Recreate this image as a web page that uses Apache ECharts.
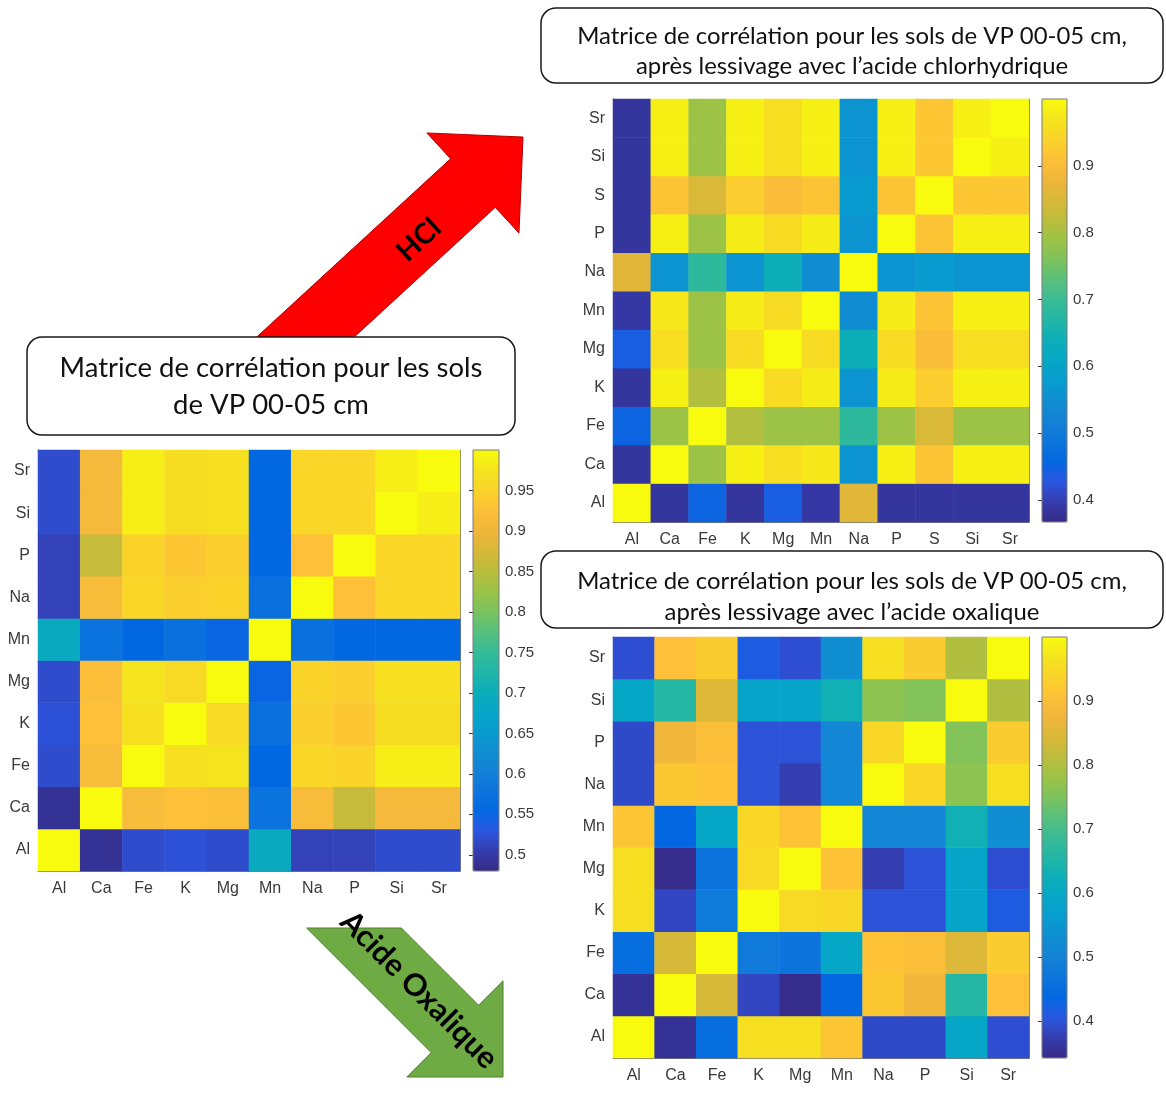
<!DOCTYPE html>
<html><head><meta charset="utf-8">
<script src="https://cdn.jsdelivr.net/npm/echarts@6/dist/echarts.min.js"></script>
<style>html,body{margin:0;padding:0;background:#fff}#c{width:1166px;height:1109px}</style>
</head><body><div id="c"></div>
<script>
// ---------- DATA ----------
const elemsVP  = ['Al','Ca','Fe','K','Mg','Mn','Na','P','Si','Sr'];
const elemsHCl = ['Al','Ca','Fe','K','Mg','Mn','Na','P','S','Si','Sr'];
const elemsOx  = ['Al','Ca','Fe','K','Mg','Mn','Na','P','Si','Sr'];

// rows follow the y categories from bottom (Al) to top (Sr); columns follow the x categories
const corrVP = [
  [1.00, 0.49, 0.52, 0.525,0.52, 0.69, 0.51, 0.51, 0.52, 0.52],
  [0.49, 1.00, 0.915,0.925,0.92, 0.575,0.915,0.86, 0.91, 0.91],
  [0.52, 0.915,1.00, 0.97, 0.975,0.555,0.955,0.95, 0.985,0.985],
  [0.525,0.925,0.97, 1.00, 0.96, 0.57, 0.945,0.935,0.965,0.965],
  [0.52, 0.92, 0.975,0.96, 1.00, 0.55, 0.95, 0.945,0.97, 0.97],
  [0.69, 0.575,0.555,0.57, 0.55, 1.00, 0.57, 0.555,0.555,0.555],
  [0.51, 0.915,0.955,0.945,0.95, 0.57, 1.00, 0.925,0.955,0.955],
  [0.51, 0.86, 0.95, 0.935,0.945,0.555,0.925,1.00, 0.955,0.955],
  [0.52, 0.91, 0.985,0.965,0.97, 0.555,0.955,0.955,1.00, 0.985],
  [0.52, 0.91, 0.985,0.965,0.97, 0.555,0.955,0.955,0.985,1.00]
];
const corrHCl = [
  [1.00, 0.385,0.45, 0.385,0.44, 0.39, 0.86, 0.385,0.385,0.385,0.385],
  [0.385,1.00, 0.79, 0.985,0.96, 0.975,0.56, 0.985,0.915,0.985,0.985],
  [0.45, 0.79, 1.00, 0.81, 0.79, 0.79, 0.685,0.79, 0.85, 0.79, 0.79],
  [0.385,0.985,0.81, 1.00, 0.955,0.98, 0.56, 0.98, 0.93, 0.985,0.985],
  [0.44, 0.96, 0.79, 0.955,1.00, 0.955,0.64, 0.955,0.90, 0.96, 0.96],
  [0.39, 0.975,0.79, 0.98, 0.955,1.00, 0.545,0.98, 0.915,0.985,0.985],
  [0.86, 0.56, 0.685,0.56, 0.64, 0.545,1.00, 0.56, 0.575,0.56, 0.56],
  [0.385,0.985,0.79, 0.98, 0.955,0.98, 0.56, 1.00, 0.915,0.985,0.985],
  [0.385,0.915,0.85, 0.93, 0.90, 0.915,0.575,0.915,1.00, 0.92, 0.92],
  [0.385,0.985,0.79, 0.985,0.96, 0.985,0.56, 0.985,0.92, 1.00, 0.985],
  [0.385,0.985,0.79, 0.985,0.96, 0.985,0.56, 0.985,0.92, 0.985,1.00]
];
const corrOx = [
  [1.00, 0.355,0.45, 0.96, 0.96, 0.915,0.39, 0.39, 0.59, 0.395],
  [0.355,1.00, 0.84, 0.385,0.345,0.435,0.92, 0.88, 0.66, 0.905],
  [0.45, 0.84, 1.00, 0.48, 0.465,0.59, 0.91, 0.90, 0.85, 0.925],
  [0.96, 0.385,0.48, 1.00, 0.95, 0.945,0.40, 0.40, 0.585,0.415],
  [0.96, 0.345,0.465,0.95, 1.00, 0.91, 0.375,0.40, 0.585,0.395],
  [0.915,0.435,0.59, 0.945,0.91, 1.00, 0.51, 0.51, 0.63, 0.53],
  [0.39, 0.92, 0.91, 0.40, 0.375,0.51, 1.00, 0.945,0.765,0.96],
  [0.39, 0.88, 0.90, 0.40, 0.40, 0.51, 0.945,1.00, 0.755,0.925],
  [0.59, 0.66, 0.85, 0.585,0.585,0.63, 0.765,0.755,1.00, 0.80],
  [0.395,0.905,0.925,0.415,0.395,0.53, 0.96, 0.925,0.80, 1.00]
];

const rangeVP  = [0.48, 1];
const rangeHCl = [0.367, 1];
const rangeOx  = [0.342, 1];
const ticksVP  = [0.5, 0.55, 0.6, 0.65, 0.7, 0.75, 0.8, 0.85, 0.9, 0.95];
const ticksHCl = [0.4, 0.5, 0.6, 0.7, 0.8, 0.9];
const ticksOx  = [0.4, 0.5, 0.6, 0.7, 0.8, 0.9];

const titleVP  = ['Matrice de corrélation pour les sols', 'de VP 00-05 cm'];
const titleHCl = ['Matrice de corrélation pour les sols de VP 00-05 cm,', 'après lessivage avec l’acide chlorhydrique'];
const titleOx  = ['Matrice de corrélation pour les sols de VP 00-05 cm,', 'après lessivage avec l’acide oxalique'];
const arrowHCl = 'HCl';
const arrowOx  = 'Acide Oxalique';

// ---------- STYLE / LAYOUT ----------
// parula-like colour scale, slightly more saturated in the greens as in the picture
const parula = ['#352a87','#353dad','#2a56e0','#0268e1','#0d75dc','#1481d6','#108ed2','#079ccf','#06a7c6','#0caeb9','#22b6a6','#38bb96','#58c07c','#7cc25c','#9cc346','#bcbd3c','#d9b838','#f0b63c','#fdc038','#fad32a','#f5e41d','#f9fb0e'];
const panels = [
  {cats: elemsVP,  m: corrVP,  range: rangeVP,  ticks: ticksVP,  plot: [38, 450, 422, 421],  bar: [473, 450, 26, 421]},
  {cats: elemsHCl, m: corrHCl, range: rangeHCl, ticks: ticksHCl, plot: [613, 99, 416, 423],  bar: [1042, 99, 25, 423]},
  {cats: elemsOx,  m: corrOx,  range: rangeOx,  ticks: ticksOx,  plot: [613, 637, 416, 421], bar: [1042, 637, 25, 421]}
];
const axisFont = '"Liberation Sans", Arial, sans-serif';
const labelColor = '#3a3a3a';
const boxColor = '#7a7a7a';

const grid = [], xAxis = [], yAxis = [], series = [], visualMap = [], graphic = [];
panels.forEach((p, k) => {
  const [px, py, pw, ph] = p.plot;
  const [bx, by, bw, bh] = p.bar;
  grid.push({left: px, top: py, width: pw, height: ph, containLabel: false});
  grid.push({left: bx, top: by, width: bw, height: bh, containLabel: false});
  const gi = 2 * k, gb = 2 * k + 1;
  const catTick = {show: true, inside: true, length: 4, alignWithLabel: true, lineStyle: {color: '#333'}};
  const line = {show: true, lineStyle: {color: boxColor, width: 1}};
  xAxis.push({type: 'category', gridIndex: gi, data: p.cats, position: 'bottom',
    axisLine: line, axisTick: catTick, splitLine: {show: false},
    axisLabel: {fontFamily: axisFont, fontSize: 16, color: labelColor, margin: 10}});
  xAxis.push({type: 'category', gridIndex: gi, data: p.cats, position: 'top',
    axisLine: line, axisTick: catTick, axisLabel: {show: false}, splitLine: {show: false}});
  xAxis.push({type: 'value', gridIndex: gb, show: false, min: 0, max: 1});
  yAxis.push({type: 'category', gridIndex: gi, data: p.cats, position: 'left',
    axisLine: line, axisTick: catTick, splitLine: {show: false},
    axisLabel: {fontFamily: axisFont, fontSize: 16, color: labelColor, margin: 8}});
  yAxis.push({type: 'category', gridIndex: gi, data: p.cats, position: 'right',
    axisLine: line, axisTick: catTick, axisLabel: {show: false}, splitLine: {show: false}});
  yAxis.push({type: 'value', gridIndex: gb, position: 'right', min: p.range[0], max: p.range[1],
    axisLine: {show: false}, splitLine: {show: false},
    axisTick: {show: true, inside: true, length: 4, customValues: p.ticks, lineStyle: {color: '#333'}},
    axisLabel: {customValues: p.ticks, fontFamily: axisFont, fontSize: 15, color: labelColor, margin: 6}});
  const data = [];
  p.m.forEach((row, i) => row.forEach((v, j) => data.push([j, i, v])));
  series.push({type: 'heatmap', xAxisIndex: 3 * k, yAxisIndex: 3 * k, data: data,
    itemStyle: {borderWidth: 0}, emphasis: {disabled: true}, progressive: 0});
  visualMap.push({type: 'continuous', seriesIndex: k, min: p.range[0], max: p.range[1],
    calculable: false, hoverLink: false, orient: 'vertical', left: bx, top: by,
    itemWidth: bw, itemHeight: bh, padding: 0, text: null, inRange: {color: parula}});
  graphic.push({type: 'rect', z: 50, silent: true, shape: {x: bx, y: by, width: bw, height: bh},
    style: {fill: null, stroke: boxColor, lineWidth: 1}});
});

// text fitting helper (Lato is the closest installed face to the Calibri of the original)
const cv = document.createElement('canvas').getContext('2d');
function fitSize(text, weight, family, target) {
  cv.font = weight + ' 100px ' + family;
  return 100 * target / cv.measureText(text).width;
}

// arrows
function arrowPts(tip, angDeg, headLen, headHalf, shaftHalf, cutY) {
  const a = angDeg * Math.PI / 180;
  const d = [Math.cos(a), -Math.sin(a)];
  const n = [-d[1], d[0]];
  const B = [tip[0] - headLen * d[0], tip[1] - headLen * d[1]];
  const P = (s) => [B[0] + s * n[0], B[1] + s * n[1]];
  const back = (pt) => { const s = (pt[1] - cutY) / d[1]; return [pt[0] - s * d[0], pt[1] - s * d[1]]; };
  const h1 = P(headHalf), s1 = P(shaftHalf), s2 = P(-shaftHalf), h2 = P(-headHalf);
  return [tip, h1, s1, back(s1), back(s2), s2, h2];
}
graphic.push({type: 'polygon', z: 10, silent: true,
  shape: {points: arrowPts([523, 137], 42.6, 68, 68, 33, 345)},
  style: {fill: '#ff0000', stroke: '#b00000', lineWidth: 1}});
graphic.push({type: 'polygon', z: 10, silent: true,
  shape: {points: arrowPts([503, 1077], -45, 68, 68, 33.5, 928)},
  style: {fill: '#6fab45', stroke: '#4f7f30', lineWidth: 1}});
graphic.push({type: 'text', z: 12, silent: true, x: 419, y: 240, rotation: 42.6 * Math.PI / 180,
  style: {text: arrowHCl, fontFamily: 'Lato', fontWeight: 'bold', fontSize: fitSize(arrowHCl, 'bold', 'Lato', 48),
    fill: '#000', align: 'center', verticalAlign: 'middle'}});
graphic.push({type: 'text', z: 12, silent: true, x: 419, y: 990, rotation: -Math.PI / 4,
  style: {text: arrowOx, fontFamily: 'Lato', fontWeight: 'bold', fontSize: fitSize(arrowOx, 'bold', 'Lato', 208),
    fill: '#000', align: 'center', verticalAlign: 'middle'}});

// title boxes
function titleBox(rect, lines, lineY, target) {
  graphic.push({type: 'rect', z: 20, silent: true,
    shape: {x: rect[0], y: rect[1], width: rect[2], height: rect[3], r: 15},
    style: {fill: '#fff', stroke: '#1a1a1a', lineWidth: 1.5}});
  const fs = fitSize(lines[0], 'normal', 'Lato', target);
  lines.forEach((t, i) => graphic.push({type: 'text', z: 21, silent: true,
    x: rect[0] + rect[2] / 2, y: lineY[i],
    style: {text: t, fontFamily: 'Lato', fontSize: fs, fill: '#111', align: 'center', verticalAlign: 'middle'}}));
}
titleBox([27, 337, 488, 98], titleVP, [368, 405], 423);
titleBox([541, 8, 622, 75], titleHCl, [36, 66], 550);
titleBox([541, 551, 622, 77], titleOx, [581, 612], 550);

const chart = echarts.init(document.getElementById('c'), null, {renderer: 'canvas'});
chart.setOption({
  animation: false,
  backgroundColor: '#fff',
  grid, xAxis, yAxis, visualMap, series, graphic
});
</script></body></html>
